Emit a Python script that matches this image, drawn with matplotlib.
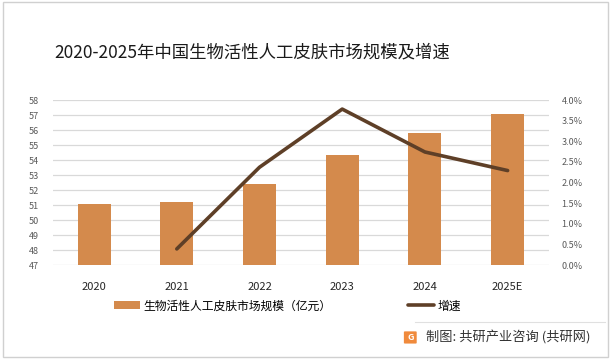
import matplotlib
matplotlib.use("Agg")
import matplotlib.pyplot as plt
from matplotlib.patches import Rectangle, FancyBboxPatch
from matplotlib.ticker import PercentFormatter

plt.rcParams['font.family'] = ['Noto Sans CJK SC', 'DejaVu Sans']

# -------------------------
# DADOS
# -------------------------
anos = ["2020", "2021", "2022", "2023", "2024", "2025E"]
mercado = [51.05, 51.2, 52.4, 54.33, 55.8, 57.07]   # 亿元
anos_taxa = ["2021", "2022", "2023", "2024", "2025E"]
taxa = [0.0039, 0.0237, 0.0378, 0.0274, 0.0229]

cor_barra = "#D48A4C"
cor_linha = "#5E3F27"
cor_grade = "#D9D9D9"
cor_texto = "#595959"

fig = plt.figure(figsize=(6.11, 3.59), dpi=100)

# moldura cinza
fig.patches.append(Rectangle((0.005, 0.006), 0.99, 0.988, transform=fig.transFigure,
                             fill=False, edgecolor="#D0D0D0", linewidth=1.0))

ax = fig.add_axes([0.0863, 0.2618, 0.8122, 0.4596])
x = list(range(len(anos)))
ax.bar(x, mercado, width=0.40, color=cor_barra, zorder=3, label="生物活性人工皮肤市场规模（亿元）")
ax.set_ylim(47, 58)
ax.set_yticks(range(47, 59))
ax.set_xlim(-0.5, len(anos) - 0.5)
ax.set_xticks(x)
ax.set_xticklabels(anos, fontsize=8, color="#262626")
ax.grid(axis="y", color=cor_grade, linewidth=0.9, zorder=0)
for s in ax.spines.values():
    s.set_visible(False)
ax.tick_params(axis="both", length=0)
ax.tick_params(axis="y", labelsize=6.5, labelcolor=cor_texto, pad=10)
ax.tick_params(axis="x", pad=12)

ax2 = ax.twinx()
xt = [anos.index(a) for a in anos_taxa]
ax2.plot(xt, taxa, color=cor_linha, linewidth=2.6, zorder=4, label="增速",
         solid_capstyle="round")
ax2.set_ylim(0, 0.04)
ax2.set_yticks([i * 0.005 for i in range(9)])
ax2.yaxis.set_major_formatter(PercentFormatter(1.0, decimals=1))
for s in ax2.spines.values():
    s.set_visible(False)
ax2.tick_params(axis="y", length=0, labelsize=6.5, labelcolor=cor_texto, pad=9)

# titulo
fig.text(0.413, 0.855, "2020-2025年中国生物活性人工皮肤市场规模及增速",
         ha="center", va="center", fontsize=12.5, color="#1a1a1a")

# legenda
h1, l1 = ax.get_legend_handles_labels()
h2, l2 = ax2.get_legend_handles_labels()
leg = fig.legend(h1 + h2, l1 + l2, loc="center", bbox_to_anchor=(0.47, 0.148),
                 ncol=2, frameon=False, fontsize=8.5, handlelength=2.2,
                 handleheight=0.6, columnspacing=6.5, handletextpad=0.3)

# rodape
fig.lines.append(plt.Line2D([0.68, 0.99], [0.104, 0.104], transform=fig.transFigure,
                            color="#E0E0E0", linewidth=0.8))
fig.patches.append(FancyBboxPatch((0.663, 0.045), 0.017, 0.03,
                                  boxstyle="round,pad=0.002", transform=fig.transFigure,
                                  facecolor="#F08A3C", edgecolor="none"))
fig.text(0.6715, 0.060, "G", ha="center", va="center", fontsize=6.5,
         color="white", fontweight="bold")
fig.text(0.697, 0.060, "制图: 共研产业咨询 (共研网)", ha="left", va="center",
         fontsize=9.5, color="#333333")

fig.savefig("out.png", dpi=100)
